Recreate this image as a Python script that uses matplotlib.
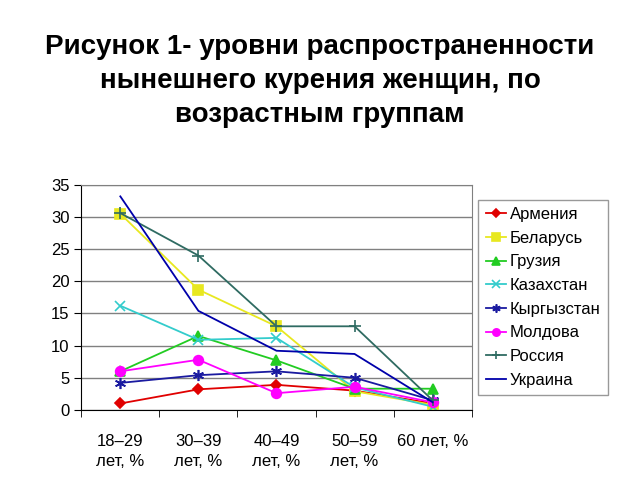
import matplotlib
matplotlib.use('Agg')
import matplotlib.pyplot as plt
import numpy as np

plt.rcParams['font.family'] = ['Liberation Sans', 'DejaVu Sans']

# age groups
categories = ['18–29\nлет, %', '30–39\nлет, %', '40–49\nлет, %', '50–59\nлет, %', '60 лет, %']

# current smoking among women, per country
armenia = [1.0, 3.2, 3.9, 3.0, 1.0]
belarus = [30.5, 18.7, 13.0, 2.9, 0.8]
georgia = [6.0, 11.5, 7.7, 3.3, 3.3]
kazakhstan = [16.2, 10.9, 11.2, 3.5, 0.5]
kyrgyzstan = [4.2, 5.4, 6.0, 5.0, 1.5]
moldova = [6.0, 7.8, 2.6, 3.6, 1.2]
russia = [30.6, 24.0, 13.0, 13.0, 1.5]
ukraine = [33.2, 15.4, 9.2, 8.7, 1.2]

series = [
    ('Армения', armenia, '#e00000', 'D', 5),
    ('Беларусь', belarus, '#e8e820', 's', 7),
    ('Грузия', georgia, '#22cc22', '^', 7),
    ('Казахстан', kazakhstan, '#33cccc', 'x', 7),
    ('Кыргызстан', kyrgyzstan, '#1a1aa0', (6, 2, 0), 8),
    ('Молдова', moldova, '#ff00ff', 'o', 7),
    ('Россия', russia, '#2f6b62', '+', 8),
    ('Украина', ukraine, '#0000aa', None, 0),
]

fig = plt.figure(figsize=(6.4, 4.8), dpi=100)
ax = fig.add_axes([0.127, 0.146, 0.61, 0.469])

x = np.arange(len(categories))
for name, vals, col, mk, ms in series:
    ax.plot(x, vals, color=col, marker=mk, markersize=ms, linewidth=1.3,
            markeredgewidth=1.2, label=name)

ax.set_xlim(-0.5, 4.5)
ax.set_ylim(0, 35)
ax.set_yticks(range(0, 36, 5))
ax.yaxis.grid(True, color='#808080', linewidth=1.0)
ax.set_axisbelow(True)

ax.set_xticks(x)
ax.set_xticklabels(categories, fontsize=12, linespacing=1.45)
ax.set_xticks(np.arange(-0.5, 5, 1), minor=True)
ax.tick_params(axis='x', which='major', length=0, pad=17)
ax.tick_params(axis='x', which='minor', length=5, direction='out')
ax.tick_params(axis='y', labelsize=12, length=5, direction='out')
for lab in ax.get_xticklabels():
    lab.set_verticalalignment('top')

for side in ['top', 'right']:
    ax.spines[side].set_color('#808080')
ax.spines['left'].set_color('black')
ax.spines['bottom'].set_color('black')

leg = ax.legend(loc='center left', bbox_to_anchor=(1.0, 0.5), fontsize=12,
                frameon=True, fancybox=False, edgecolor='#808080',
                handlelength=1.2, handletextpad=0.25, labelspacing=0.52,
                borderpad=0.45, borderaxespad=0.4, markerscale=0.75)
leg.get_frame().set_linewidth(1.0)

fig.text(0.5, 0.93, 'Рисунок 1- уровни распространенности\nнынешнего курения женщин, по\nвозрастным группам',
         ha='center', va='top', fontsize=20, fontweight='bold', linespacing=1.42)

fig.savefig('out.png', dpi=100)
